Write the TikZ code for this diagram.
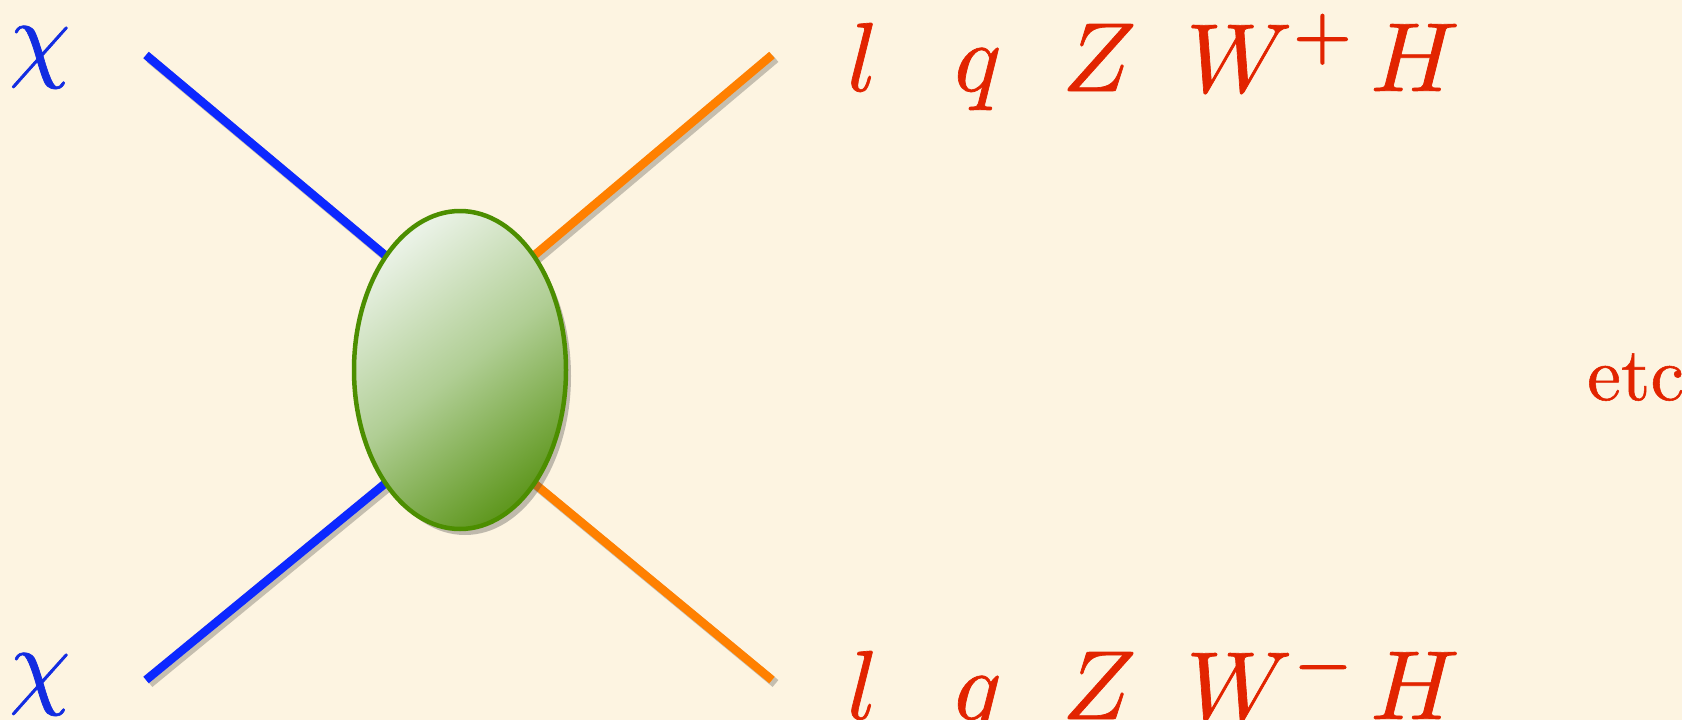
\documentclass[tikz,border=0pt]{standalone}
\usetikzlibrary{shapes.geometric,shadows}
\definecolor{bgcol}{RGB}{253,244,225}
\definecolor{chiblue}{RGB}{18,44,225}
\definecolor{lineblue}{RGB}{12,40,255}
\definecolor{lineorange}{RGB}{255,128,0}
\definecolor{txtred}{RGB}{226,36,0}
\definecolor{blobedge}{RGB}{76,142,0}
\definecolor{blobdark}{RGB}{96,152,32}
\definecolor{blobmid}{RGB}{176,206,148}
\definecolor{bloblight}{RGB}{234,242,230}
\newcommand{\magtxt}[2]{\scalebox{#1}{\special{pdf:literal direct 2 Tr 0.07 w}#2\special{pdf:literal direct 0 Tr}}}
\tikzset{
  leg/.style={line width=8.5pt},
  legshadow/.style={line width=9pt, black, opacity=0.22},
  sh/.style={xshift=3.5pt, yshift=-3.5pt},
  chilabel/.style={anchor=base west, inner sep=0pt, text=chiblue},
  outlabel/.style={anchor=base west, inner sep=0pt, text=txtred},
  etclabel/.style={anchor=base west, inner sep=0pt, text=txtred},
  blob/.style={ellipse, draw=blobedge, line width=4.5pt, inner sep=0pt,
    minimum width=212pt, minimum height=318pt,
    top color=bloblight, bottom color=blobdark, middle color=blobmid, shading angle=38,
    drop shadow={shadow xshift=5pt, shadow yshift=-6pt, opacity=0.35, fill=black!70}}
}
\begin{document}
\begin{tikzpicture}[x=1pt,y=-1pt]
\fill[bgcol] (0,0) rectangle (1682,720);
\useasboundingbox (0,0) rectangle (1682,720);
% end points
\coordinate (inTop) at (146,55);
\coordinate (inBot) at (146,680);
\coordinate (outTop) at (772,55);
\coordinate (outBot) at (772,680);
\coordinate (hubU) at (460,318);
\coordinate (hubD) at (460,422);
% shadows of legs
\draw[legshadow] ([sh]inTop) -- ([sh]hubU);
\draw[legshadow] ([sh]inBot) -- ([sh]hubD);
\draw[legshadow] ([sh]outTop) -- ([sh]hubU);
\draw[legshadow] ([sh]outBot) -- ([sh]hubD);
% legs
\draw[leg, lineblue] (inTop) -- (hubU);
\draw[leg, lineblue] (inBot) -- (hubD);
\draw[leg, lineorange] (outTop) -- (hubU);
\draw[leg, lineorange] (outBot) -- (hubD);
% blob
\node[blob] (vertex) at (460,370) {};
% labels
\node[chilabel] (chiT) at (9,69) {\magtxt{9.8}{$\chi$}};
\node[chilabel] (chiB) at (9,696) {\magtxt{9.8}{$\chi$}};
\node[outlabel] (lT) at (847,91) {\magtxt{9.8}{$l$}};
\node[outlabel] (qT) at (954,91) {\magtxt{9.8}{$q$}};
\node[outlabel] (ZT) at (1062,91) {\magtxt{9.8}{$Z$}};
\node[outlabel] (WT) at (1186,92) {\magtxt{9.8}{$W^+$}};
\node[outlabel] (HT) at (1370,91) {\magtxt{9.8}{$H$}};
\node[outlabel] (lB) at (847,719) {\magtxt{9.8}{$l$}};
\node[outlabel] (qB) at (954,719) {\magtxt{9.8}{$q$}};
\node[outlabel] (ZB) at (1062,719) {\magtxt{9.8}{$Z$}};
\node[outlabel] (WB) at (1186,720) {\magtxt{9.8}{$W^-$}};
\node[outlabel] (HB) at (1370,719) {\magtxt{9.8}{$H$}};
\node[etclabel] (etc) at (1587,400) {\magtxt{7.6}{etc}};
\end{tikzpicture}
\end{document}
